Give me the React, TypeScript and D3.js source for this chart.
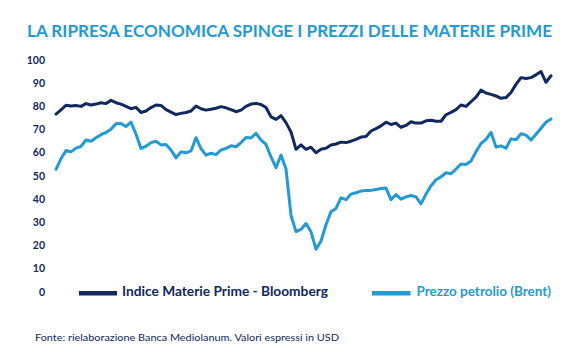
import React from "react";
import * as d3 from "d3";

const yTicks = [0, 10, 20, 30, 40, 50, 60, 70, 80, 90, 100];

const bloomberg = [
  76.7, 78.5, 80.5, 80.2, 80.4, 80.0, 81.2, 80.6, 81.0, 81.6,
  81.2, 82.6, 81.6, 81.0, 80.0, 79.0, 79.6, 77.4, 78.0, 79.5,
  80.6, 80.4, 78.6, 77.5, 76.5, 77.0, 77.4, 78.0, 80.2, 79.0,
  78.4, 78.8, 79.2, 79.9, 79.4, 78.6, 77.7, 78.4, 80.0, 81.0,
  81.3, 80.8, 79.5, 75.5, 74.4, 76.0, 73.0, 69.0, 61.5, 63.4,
  61.5, 62.4, 60.0, 61.5, 62.0, 63.4, 63.8, 64.6, 64.4, 65.0,
  65.8, 66.8, 67.0, 69.4, 70.4, 71.6, 73.2, 72.2, 72.8, 71.0,
  71.8, 73.4, 72.8, 72.8, 73.8, 74.0, 73.6, 73.6, 76.4, 77.4,
  78.6, 80.6, 80.0, 82.0, 84.0, 87.0, 85.8, 85.2, 84.5, 83.5,
  83.8, 86.0, 89.5, 92.4, 92.0, 92.4, 93.6, 95.0, 90.4, 93.2,
];

const brent = [
  52.9, 57.5, 61.0, 60.4, 62.0, 62.8, 65.5, 65.0, 66.5, 67.8,
  68.8, 70.2, 72.5, 72.6, 71.3, 73.2, 68.0, 61.9, 62.8, 64.4,
  65.0, 63.4, 63.6, 61.2, 57.8, 60.4, 60.0, 60.8, 66.5, 61.8,
  59.0, 59.8, 59.2, 61.2, 61.9, 63.0, 62.6, 64.4, 66.6, 66.4,
  68.4, 65.5, 63.6, 58.2, 53.6, 59.0, 53.0, 33.0, 26.0, 27.0,
  29.5, 26.0, 18.4, 22.0, 29.0, 34.6, 36.0, 40.6, 39.8, 42.2,
  42.8, 43.5, 43.7, 43.8, 44.2, 44.6, 44.8, 39.8, 42.0, 40.0,
  41.0, 41.6, 41.0, 38.0, 42.2, 45.8, 48.4, 49.6, 51.4, 51.0,
  53.0, 55.2, 55.0, 56.5, 60.5, 64.0, 65.8, 68.8, 62.5, 63.0,
  62.0, 66.0, 65.6, 68.2, 67.6, 65.5, 68.0, 70.6, 73.2, 74.6,
];

const title = "LA RIPRESA ECONOMICA SPINGE I PREZZI DELLE MATERIE PRIME";
const legendLabels = ["Indice Materie Prime - Bloomberg", "Prezzo petrolio (Brent)"];
const source = "Fonte: rielaborazione Banca Mediolanum. Valori espressi in USD";

const NAVY = "#10275f";
const BLUE = "#219ad6";
const FONT = "Lato, 'Open Sans', sans-serif";

export default function App() {
  const W = 581;
  const H = 358;
  const x = d3.scaleLinear().domain([0, bloomberg.length - 1]).range([56, 551]);
  const y = d3.scaleLinear().domain([0, 100]).range([292, 60]);
  const line = d3
    .line<number>()
    .x((_, i) => x(i))
    .y((d) => y(d))
    .curve(d3.curveLinear);

  return (
    <svg
      width={W}
      height={H}
      viewBox={`0 0 ${W} ${H}`}
      style={{ position: "absolute", left: 0, top: 0, background: "#fff" }}
    >
      <rect x={0} y={0} width={W} height={H} fill="#fff" />
      <text
        x={27}
        y={37}
        fill={BLUE}
        fontFamily={FONT}
        fontSize={17.5}
        fontWeight={700}
        textLength={525}
        lengthAdjust="spacingAndGlyphs"
      >
        {title}
      </text>
      {yTicks.map((t) => (
        <text
          key={t}
          x={45}
          y={y(t)}
          dy="0.35em"
          textAnchor="end"
          fill={NAVY}
          fontFamily={FONT}
          fontSize={10.5}
          fontWeight={700}
        >
          {t}
        </text>
      ))}
      <path
        d={line(brent) || ""}
        fill="none"
        stroke={BLUE}
        strokeWidth={3}
        strokeLinejoin="round"
        strokeLinecap="round"
      />
      <path
        d={line(bloomberg) || ""}
        fill="none"
        stroke={NAVY}
        strokeWidth={3}
        strokeLinejoin="round"
        strokeLinecap="round"
      />
      <rect x={79} y={291} width={38} height={4.5} fill={NAVY} />
      <text
        x={122}
        y={296}
        fill={NAVY}
        fontFamily={FONT}
        fontSize={13.5}
        fontWeight={700}
        textLength={206}
        lengthAdjust="spacingAndGlyphs"
      >
        {legendLabels[0]}
      </text>
      <rect x={372} y={291} width={38.5} height={4.5} fill={BLUE} />
      <text
        x={416.5}
        y={296}
        fill={BLUE}
        fontFamily={FONT}
        fontSize={13.5}
        fontWeight={700}
        textLength={134.5}
        lengthAdjust="spacingAndGlyphs"
      >
        {legendLabels[1]}
      </text>
      <text
        x={35}
        y={341}
        fill={NAVY}
        fontFamily={FONT}
        fontSize={9.8}
        textLength={304}
        lengthAdjust="spacingAndGlyphs"
      >
        {source}
      </text>
    </svg>
  );
}
